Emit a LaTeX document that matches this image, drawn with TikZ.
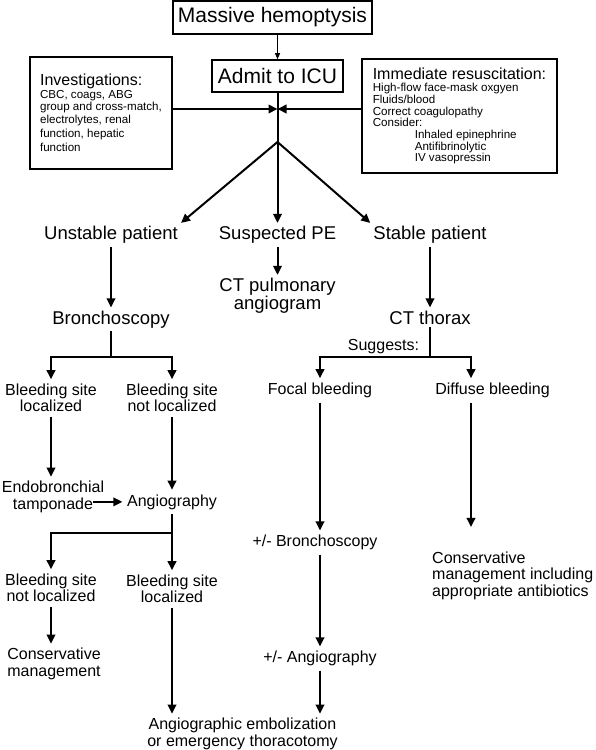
\documentclass[tikz,border=0pt]{standalone}
\usepackage{fontspec}
\setmainfont{Liberation Sans}
\usetikzlibrary{arrows.meta}
\newcommand{\szbig}{\fontsize{21}{25}\selectfont}
\newcommand{\szmid}{\fontsize{18.5}{18}\selectfont}
\newcommand{\szsml}{\fontsize{16}{16.4}\selectfont}
\newcommand{\sztiny}{\fontsize{11.6}{12.6}\selectfont}
\tikzset{
    box/.style = {draw, rectangle, line width=1.6pt, align=left},
    midtxt/.style = {font=\szmid, inner sep=3pt, align=center},
    smltxt/.style = {font=\szsml, inner sep=4.5pt, align=center},
    wire/.style = {line width=2pt},
    arr/.style = {wire, -{Triangle[length=9pt,width=8.5pt]}},
    arrthin/.style = {line width=0.9pt, -{Triangle[length=6pt,width=5pt]}},
}

\begin{document}
\begin{tikzpicture}[x=1pt, y=-1pt]
    \useasboundingbox (0,0) rectangle (596,750);

    % Top of the chart
    \node[box, font=\szbig, minimum width=199pt, minimum height=33pt, align=center] (mass) at (272.5,17.5) {Massive hemoptysis};
    \node[box, font=\szbig, minimum width=131pt, minimum height=32pt, align=center] (icu) at (277.5,76) {Admit to ICU};
    \node[box, font=\sztiny, minimum width=142pt, minimum height=112pt] (inv) at (101,113)
        {{\szsml Investigations:}\\ CBC, coags, ABG\\ group and cross-match,\\ electrolytes, renal\\[1.5pt] function, hepatic\\[1.5pt] function};
    \node[box, font=\fontsize{11.6}{11.7}\selectfont, minimum width=195pt, minimum height=114pt] (res) at (459.5,116)
        {{\szsml Immediate resuscitation:}\\[0.7pt] High-flow face-mask oxgyen\\ Fluids/blood\\ Correct coagulopathy\\ Consider:\\
         \hspace*{42pt}Inhaled epinephrine\\ \hspace*{42pt}Antifibrinolytic\\ \hspace*{42pt}IV vasopressin};

    % Patient state
    \node[midtxt, anchor=base] (unst) at (111,239.5) {Unstable patient};
    \node[midtxt, anchor=base] (spe) at (277.5,239.5) {Suspected PE};
    \node[midtxt, anchor=base] (stab) at (430,239.5) {Stable patient};
    \node[midtxt] (ctpa) at (277.5,295.7) {CT pulmonary\\angiogram};
    \node[midtxt, anchor=base] (bron) at (111,324) {Bronchoscopy};
    \node[midtxt, anchor=base] (ctt) at (430,324) {CT thorax};

    % Unstable branch
    \node[smltxt] (bsl) at (51,398) {Bleeding site\\localized};
    \node[smltxt] (bsnl) at (172,398) {Bleeding site\\not localized};
    \node[smltxt] (endo) at (53,497) {Endobronchial\\tamponade};
    \node[smltxt, anchor=base] (angio) at (172,506) {Angiography};
    \node[smltxt] (bsnl2) at (51,588) {Bleeding site\\not localized};
    \node[smltxt] (bsl2) at (172,589) {Bleeding site\\localized};
    \node[smltxt] (cons) at (54,664) {Conservative\\management};
    \node[smltxt] (emb) at (242.5,734) {Angiographic embolization\\or emergency thoracotomy};

    % Stable branch
    \node[smltxt, anchor=base] (sugg) at (383.5,350.5) {Suggests:};
    \node[smltxt, anchor=base] (focal) at (320,394.5) {Focal bleeding};
    \node[smltxt, anchor=base] (diff) at (492.5,394.5) {Diffuse bleeding};
    \node[smltxt, anchor=base] (pmbron) at (315,546.7) {+/- Bronchoscopy};
    \node[smltxt, anchor=base] (pmangio) at (320,662.7) {+/- Angiography};
    \node[smltxt, align=left, anchor=west] (consab) at (427.5,575.5) {Conservative\\management including\\appropriate antibiotics};

    % Junctions
    \coordinate (mid) at (277.5,109);
    \coordinate (apex) at (277.5,142);
    \coordinate (bj) at (111,357);
    \coordinate (cj) at (430,357);
    \coordinate (aj) at (172,533);
    \coordinate (tp) at ([xshift=-16pt]endo.east);
    \coordinate (dnorth) at ([xshift=-21.5pt]diff.north);
    \coordinate (dsouth) at ([xshift=-21.5pt]diff.south);

    % Connections
    \draw[arrthin] (icu.north |- mass.south) -- (icu.north);
    \draw[arr] (icu.south) -- (icu.south |- spe.north);
    \draw[arr] (inv.east |- mid) -- (mid);
    \draw[arr] (res.west |- mid) -- (mid);
    \draw[arr] (apex) -- (unst.north east);
    \draw[arr] (apex) -- (stab.north west);
    \draw[arr] (spe.south) -- (ctpa.north);
    \draw[arr] (unst.south) -- (bron.north);
    \draw[arr] (stab.south) -- (ctt.north);

    \draw[wire] (bron.south) -- (bj);
    \draw[arr] (bj) -| (bsl.north);
    \draw[arr] (bj) -| (bsnl.north);
    \draw[arr] (bsl.south) -- (bsl.south |- endo.north);
    \draw[arr] (bsnl.south) -- (angio.north);
    \draw[arr] (tp |- angio.west) -- (angio.west);
    \draw[wire] (angio.south) -- (aj);
    \draw[arr] (aj) -| (bsnl2.north);
    \draw[arr] (aj) -- (aj |- bsl2.north);
    \draw[arr] (bsnl2.south) -- (bsnl2.south |- cons.north);
    \draw[arr] (bsl2.south) -- (bsl2.south |- emb.north);

    \draw[wire] (ctt.south) -- (cj);
    \draw[arr] (cj) -| (focal.north);
    \draw[arr] (cj) -| (dnorth);
    \draw[arr] (focal.south) -- (focal.south |- pmbron.north);
    \draw[arr] (pmangio.north |- pmbron.south) -- (pmangio.north);
    \draw[arr] (pmangio.south) -- (pmangio.south |- emb.north);
    \draw[arr, shorten >=20pt] (dsouth) -- (dsouth |- consab.north);
\end{tikzpicture}
\end{document}
